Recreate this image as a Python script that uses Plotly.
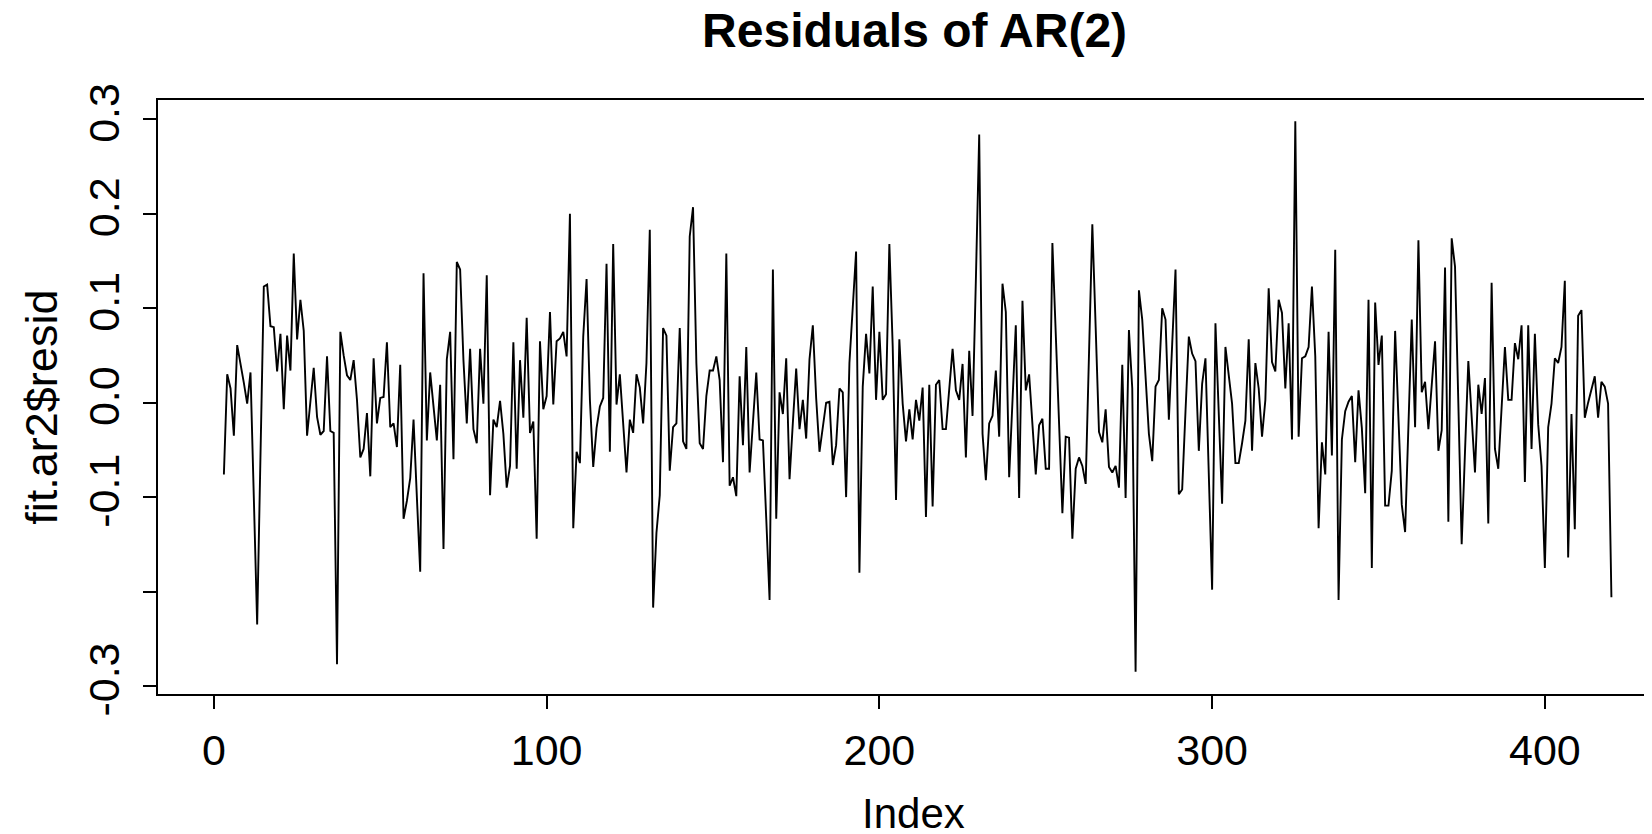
import plotly.graph_objects as go

# Residuals of AR(2), index 3..420
resid_part1 = [-0.076, 0.030, 0.015, -0.035, 0.061, 0.042, 0.021, -0.001, 0.032, -0.101,
               -0.235, -0.056, 0.123, 0.125, 0.081, 0.080, 0.033, 0.073, -0.007, 0.071,
               0.034, 0.158, 0.067, 0.109, 0.076, -0.035, 0.000, 0.037, -0.015, -0.034,
               -0.030, 0.049, -0.030, -0.032]
resid_part2 = [-0.277, 0.075, 0.050, 0.029, 0.024, 0.045, 0.003, -0.058, -0.049, -0.011,
               -0.078, 0.047, -0.022, 0.005, 0.006, 0.064, -0.026, -0.022, -0.047, 0.040,
               -0.123, -0.104, -0.080, -0.018, -0.100, -0.179, 0.137, -0.040, 0.032, -0.004,
               -0.040, 0.019, -0.155, 0.046, 0.075]
resid_part3 = [-0.060, 0.149, 0.141, 0.045, -0.022, 0.057, -0.028, -0.043, 0.057, -0.001,
               0.135, -0.098, -0.018, -0.026, 0.002, -0.033, -0.090, -0.067, 0.064, -0.070,
               0.045, -0.016, 0.090, -0.032, -0.020, -0.144, 0.065, -0.007, 0.007, 0.096,
               -0.002, 0.065, 0.068, 0.075, 0.049]
resid_part4 = [0.200, -0.133, -0.052, -0.064, 0.070, 0.131, 0.003, -0.068, -0.027, -0.004,
               0.005, 0.147, -0.052, 0.168, -0.002, 0.030, -0.025, -0.074, -0.018, -0.032,
               0.030, 0.016, -0.022, 0.042, 0.183, -0.217, -0.138, -0.098, 0.079, 0.071,
               -0.072, -0.026, -0.022, 0.079, -0.041]
resid_part5 = [-0.049, 0.176, 0.207, 0.042, -0.043, -0.049, 0.007, 0.034, 0.034, 0.049,
               0.024, -0.063, 0.158, -0.088, -0.079, -0.099, 0.028, -0.045, 0.059, -0.074,
               -0.021, 0.032, -0.039, -0.040, -0.123, -0.209, 0.141, -0.123, 0.011, -0.012,
               0.047, -0.081, -0.021, 0.036, -0.028, 0.003]
resid_part6 = [-0.038, 0.046, 0.082, 0.005, -0.052, -0.026, 0.000, 0.001, -0.066, -0.045,
               0.015, 0.011, -0.100, 0.042, 0.100, 0.160, -0.180, 0.017, 0.073, 0.031,
               0.123, 0.003, 0.075, 0.003, 0.009, 0.168, 0.060, -0.103, 0.067, -0.001,
               -0.041, -0.007, -0.039, 0.003, -0.019]
resid_part7 = [0.016, -0.121, 0.019, -0.110, 0.019, 0.024, -0.028, -0.028, 0.011, 0.057,
               0.013, 0.003, 0.041, -0.058, 0.055, -0.014, 0.130, 0.284, -0.033, -0.082,
               -0.022, -0.014, 0.034, -0.036, 0.126, 0.096, -0.079, -0.001, 0.082, -0.101,
               0.108, 0.013, 0.030, -0.023, -0.076, -0.024]
resid_part8 = [-0.017, -0.070, -0.070, 0.169, 0.070, -0.028, -0.117, -0.036, -0.037, -0.144,
               -0.070, -0.058, -0.067, -0.086, 0.062, 0.189, 0.080, -0.031, -0.042, -0.007,
               -0.068, -0.074, -0.067, -0.090, 0.040, -0.101, 0.077, 0.015, -0.285, 0.119,
               0.088, 0.030, -0.033, -0.062, 0.017]
resid_part9 = [0.024, 0.100, 0.088, -0.018, 0.062, 0.141, -0.097, -0.092, -0.009, 0.070,
               0.052, 0.044, -0.051, 0.020, 0.047, -0.072, -0.198, 0.084, -0.009, -0.107,
               0.059, 0.030, -0.001, -0.064, -0.064, -0.043, -0.019, 0.067, -0.051, 0.042,
               0.015, -0.036, 0.003, 0.121, 0.043, 0.033]
resid_part10 = [0.109, 0.095, 0.015, 0.084, -0.039, 0.298, -0.036, 0.047, 0.049, 0.059,
                0.123, 0.049, -0.133, -0.042, -0.076, 0.075, -0.056, 0.162, -0.209, -0.039,
                -0.009, 0.001, 0.007, -0.063, 0.013, -0.027, -0.096, 0.109, -0.175, 0.106,
                0.040, 0.071, -0.109, -0.109, -0.072]
resid_part11 = [0.076, -0.017, -0.108, -0.137, -0.025, 0.088, -0.026, 0.172, 0.011, 0.022,
                -0.028, 0.019, 0.065, -0.051, -0.029, 0.143, -0.126, 0.174, 0.144, -0.001,
                -0.150, -0.052, 0.044, -0.015, -0.074, 0.019, -0.012, 0.026, -0.128, 0.127,
                -0.049, -0.070, -0.005, 0.059, 0.003]
resid_part12 = [0.003, 0.063, 0.046, 0.082, -0.084, 0.082, -0.049, 0.073, -0.023, -0.067,
                -0.175, -0.026, -0.001, 0.047, 0.042, 0.059, 0.129, -0.164, -0.012, -0.134,
                0.092, 0.098, -0.016, 0.000, 0.015, 0.028, -0.016, 0.022, 0.017, -0.001,
                -0.206]

resid = (resid_part1 + resid_part2 + resid_part3 + resid_part4 + resid_part5 + resid_part6 +
         resid_part7 + resid_part8 + resid_part9 + resid_part10 + resid_part11 + resid_part12)
first_index = 3
index = list(range(first_index, first_index + len(resid)))

x_ticks = [0, 100, 200, 300, 400]
y_ticks = [-0.3, -0.2, -0.1, 0.0, 0.1, 0.2, 0.3]
y_tick_labels = ["-0.3", "", "-0.1", "0.0", "0.1", "0.2", "0.3"]

FONT = "Liberation Sans, Arial, Helvetica, sans-serif"

fig = go.Figure(go.Scatter(x=index, y=resid, mode="lines",
                           line=dict(color="black", width=1.9),
                           hoverinfo="skip", showlegend=False))

# the page body has an 8px margin, so the figure is 8px smaller than the window
OFF = 8
W, H = 1652 - OFF, 834 - OFF
L, R, T, B = 158 - OFF, 0, 100 - OFF, 140
pw, ph = W - L - R, H - T - B

fig.update_layout(
    width=W, height=H,
    margin=dict(l=L, r=R, t=T, b=B, pad=0),
    paper_bgcolor="white", plot_bgcolor="white",
    font=dict(family=FONT, color="black", size=42),
    title=dict(text="<b>Residuals of AR(2)</b>", font=dict(size=48, family=FONT, color="black"),
               x=(914.6 - OFF) / W, xref="container", xanchor="center",
               y=1 - (30.0 - OFF) / H, yref="container", yanchor="middle"),
    xaxis=dict(range=[-16.8, 432.2], tickvals=x_ticks, ticks="outside", ticklen=13,
               tickwidth=1.5, tickcolor="black", showline=True, linecolor="black",
               linewidth=1.5, mirror=True, showgrid=False, zeroline=False,
               tickfont=dict(size=43, family=FONT), ticklabelstandoff=5),
    yaxis=dict(range=[-0.3085, 0.3205], tickvals=y_ticks, ticktext=y_tick_labels,
               ticks="outside", ticklen=13, tickwidth=1.5, tickcolor="black",
               showline=True, linecolor="black", linewidth=1.5, mirror=False,
               showgrid=False, zeroline=False, tickangle=-90,
               tickfont=dict(size=43, family=FONT), ticklabelstandoff=7),
    annotations=[
        dict(text="Index", xref="paper", yref="paper",
             x=(913.5 - 158) / pw, y=(694.3 - 814) / ph, xanchor="center", yanchor="middle",
             showarrow=False, font=dict(size=42, family=FONT)),
        dict(text="fit.ar2$resid", xref="paper", yref="paper", textangle=-90,
             x=(42 - 158) / pw, y=(694.3 - 408) / ph, xanchor="center", yanchor="middle",
             showarrow=False, font=dict(size=45, family=FONT)),
    ],
)

fig.write_html("out.html")
